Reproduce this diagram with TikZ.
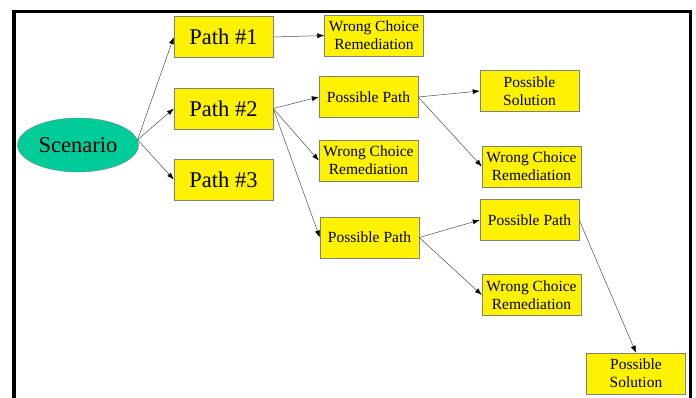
\documentclass[tikz,border=0pt]{standalone}
\usepackage{fontspec}
\setmainfont{Liberation Serif}
\usepackage{tikz}
\usetikzlibrary{arrows.meta,shapes.geometric}
\definecolor{scencol}{RGB}{0,204,153}

\begin{document}
\begin{tikzpicture}[x=1pt,y=-1pt,
    box/.style={draw=gray,fill=yellow,minimum width=99pt,minimum height=41pt,inner sep=0pt,align=center,font=\fontsize{15.5}{18}\selectfont},
    bigbox/.style={box,font=\fontsize{22.5}{26}\selectfont},
    link/.style={draw=gray!60!black,line width=0.5pt,-{Latex[length=7pt,width=5pt,color=black]}}]
    \useasboundingbox (0,0) rectangle (696,398);
    % frame
    \draw[line width=3.5pt] (14,398) -- (14,11.5) -- (690.5,11.5) -- (690.5,398);
    % nodes
    \node[ellipse,draw=gray,fill=scencol,minimum width=121pt,minimum height=54pt,inner sep=0pt,font=\fontsize{22.5}{26}\selectfont] (scen) at (78,145) {Scenario};
    \node[bigbox] (path1) at (223.5,37) {Path \#1};
    \node[bigbox] (path2) at (223.5,108.5) {Path \#2};
    \node[bigbox] (path3) at (223.5,179.5) {Path \#3};
    \node[box] (wrong1) at (374,35.5) {Wrong Choice\\Remediation};
    \node[box] (poss1) at (368.5,97) {Possible Path};
    \node[box] (wrong2) at (368.5,160.5) {Wrong Choice\\Remediation};
    \node[box] (poss2) at (369.5,237.5) {Possible Path};
    \node[box] (sol1) at (529.5,91) {Possible\\Solution};
    \node[box] (wrong3) at (531.5,166.5) {Wrong Choice\\Remediation};
    \node[box] (poss3) at (529.5,220) {Possible Path};
    \node[box] (wrong4) at (531.5,295) {Wrong Choice\\Remediation};
    \node[box] (sol2) at (636,373.5) {Possible\\Solution};
    % links
    \draw[link] (scen.5) -- (path1.west);
    \draw[link] (scen.5) -- (path2.west);
    \draw[link] (scen.5) -- (path3.west);
    \draw[link] (path1.east) -- (wrong1.west);
    \draw[link] (path2.east) -- (poss1.west);
    \draw[link] (path2.east) -- (wrong2.west);
    \draw[link] (path2.east) -- (poss2.west);
    \draw[link] (poss1.east) -- (sol1.west);
    \draw[link] (poss1.east) -- (wrong3.west);
    \draw[link] (poss2.east) -- (poss3.west);
    \draw[link] (poss2.east) -- (wrong4.west);
    \draw[link] (poss3.east) -- (sol2.north);
\end{tikzpicture}
\end{document}
